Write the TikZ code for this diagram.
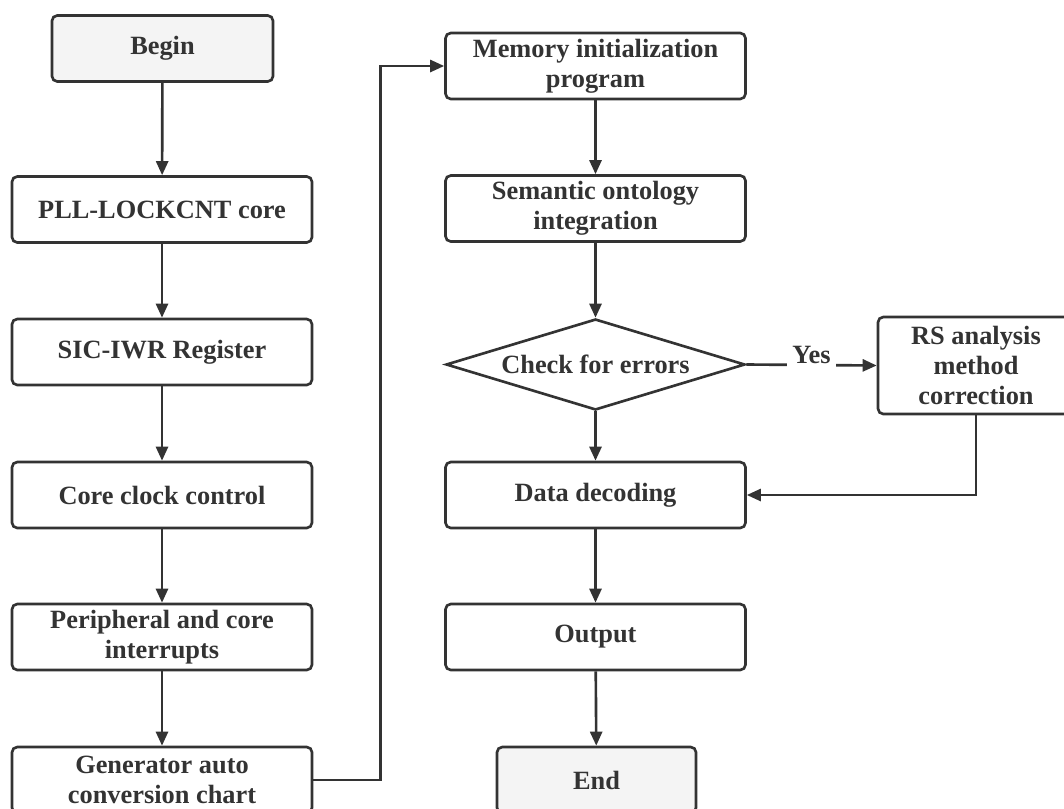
\documentclass[tikz,border=0pt]{standalone}
\usepackage{fontspec}
\setmainfont{Liberation Serif}
\usepackage{xcolor}
\usetikzlibrary{arrows.meta,positioning,shapes.geometric}
\definecolor{ink}{RGB}{51,51,51}
\definecolor{termfill}{RGB}{244,244,244}

\begin{document}
\begin{tikzpicture}[
  box/.style={draw=ink, line width=1.5pt, rounded corners=3pt, align=center,
    minimum width=6cm, minimum height=1.32cm, inner sep=0pt, text=ink,
    font=\fontsize{15}{17}\selectfont\bfseries},
  terminal/.style={box, fill=termfill, minimum width=4.42cm},
  decision/.style={draw=ink, line width=1.5pt, diamond, aspect=3.3, inner sep=0pt,
    minimum width=5.98cm, minimum height=1.82cm, text=ink,
    font=\fontsize{15}{17}\selectfont\bfseries},
  flow/.style={-{Triangle[length=2.8mm, width=2.4mm]}, line width=1.5pt, draw=ink},
  yesnote/.style={fill=white, text=ink, inner sep=3pt, anchor=south,
    font=\fontsize{15}{17}\selectfont\bfseries}
]
\useasboundingbox (0,0) rectangle (21.28,-16.16);

% Left column.
\node[terminal] (begin) at (3.25,-0.97) {Begin};
\node[box] (pll) at (3.24,-4.19) {PLL-LOCKCNT core};
\node[box] (sic) at (3.24,-7.04) {SIC-IWR Register};
\node[box] (clk) at (3.24,-9.9) {Core clock control};
\node[box] (periph) at (3.24,-12.74) {Peripheral and core\\interrupts};
\node[box] (gen) at (3.24,-15.6) {Generator auto\\conversion chart};

% Right column.
\node[box] (mem) at (11.91,-1.32) {Memory initialization\\program};
\node[box] (sem) at (11.91,-4.17) {Semantic ontology\\integration};
\node[decision] (check) at (11.91,-7.29) {Check for errors};
\node[box, minimum width=3.92cm, minimum height=1.94cm] (rs) at (19.52,-7.31)
  {RS analysis\\method\\correction};
\node[box] (dec) at (11.91,-9.9) {Data decoding};
\node[box] (out) at (11.91,-12.74) {Output};
\node[terminal, minimum width=3.98cm] (end) at (11.93,-15.6) {End};

\draw[flow] (begin) -- (pll);
\draw[flow] (pll) -- (sic);
\draw[flow] (sic) -- (clk);
\draw[flow] (clk) -- (periph);
\draw[flow] (periph) -- (gen);

% Jump over to the second column.
\draw[flow] (gen.east) -- ++(1.34,0) |- (mem.west);

\draw[flow] (mem) -- (sem);
\draw[flow] (sem) -- (check);
\draw[flow] (check.east) -- node[yesnote, yshift=-0.1cm] {Yes} (rs.west);
\draw[flow] (check) -- (dec);
\draw[flow] (rs.south) |- (dec.east);
\draw[flow] (dec) -- (out);
\draw[flow] (out) -- (end);

\end{tikzpicture}
\end{document}
